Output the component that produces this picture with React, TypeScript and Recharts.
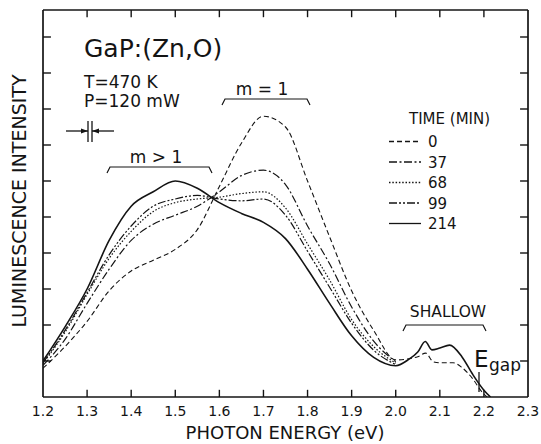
import { LineChart, Line, XAxis, YAxis, ReferenceLine } from 'recharts';

// photon energy (eV) grid for the main band
const ENERGY = [1.2, 1.25, 1.3, 1.35, 1.4, 1.45, 1.5, 1.55, 1.6, 1.65, 1.7, 1.75, 1.8, 1.85, 1.9, 1.95, 2.0];

// intensity in tick units (0 = bottom frame)
const INT_0 = [0.8, 1.4, 2.1, 2.95, 3.5, 3.8, 4.1, 4.65, 5.85, 7.05, 7.8, 7.5, 6.0, 4.45, 2.95, 1.85, 1.03];
const INT_37 = [0.88, 1.6, 2.6, 3.55, 4.35, 4.8, 5.05, 5.3, 5.7, 6.15, 6.3, 5.9, 4.75, 3.7, 2.5, 1.55, 0.98];
const INT_68 = [0.93, 1.8, 2.85, 3.85, 4.6, 5.15, 5.4, 5.5, 5.55, 5.65, 5.7, 5.25, 4.25, 3.25, 2.15, 1.4, 0.94];
const INT_99 = [0.95, 1.85, 2.9, 3.95, 4.75, 5.3, 5.5, 5.6, 5.5, 5.45, 5.5, 5.05, 4.05, 3.05, 2.05, 1.3, 0.9];
const INT_214 = [1.0, 1.95, 3.0, 4.35, 5.3, 5.7, 6.0, 5.8, 5.4, 5.1, 4.85, 4.4, 3.55, 2.6, 1.7, 1.1, 0.87];

// shallow-level tail, only the 0 and 214 min scans run past 2.0 eV
const ENERGY_SHALLOW_0 = [2.05, 2.068, 2.085, 2.1, 2.13, 2.15, 2.175, 2.195, 2.207];
const INT_SHALLOW_0 = [1.12, 1.22, 0.98, 0.95, 0.95, 0.82, 0.5, 0.15, 0];
const ENERGY_SHALLOW_214 = [2.03, 2.05, 2.067, 2.082, 2.1, 2.122, 2.15, 2.175, 2.2, 2.215];
const INT_SHALLOW_214 = [1.05, 1.25, 1.54, 1.31, 1.36, 1.44, 1.12, 0.62, 0.19, 0];

const X_TICKS = [1.2, 1.3, 1.4, 1.5, 1.6, 1.7, 1.8, 1.9, 2.0, 2.1, 2.2, 2.3];
const Y_TICKS = [1, 2, 3, 4, 5, 6, 7, 8, 9, 10];

const X_MIN = 1.2;
const X_MAX = 2.3;
const Y_MAX = 10.75;

const FONT = '"DejaVu Sans", sans-serif';
const INK = '#141414';

const toPoints = (es: number[], vs: number[]) => es.map((e, i) => ({ e, v: vs[i] }));

const series = [
  { name: '0', data: toPoints([...ENERGY, ...ENERGY_SHALLOW_0], [...INT_0, ...INT_SHALLOW_0]), dash: '5 3', width: 1.1 },
  { name: '37', data: toPoints(ENERGY, INT_37), dash: '8 2.5 2 2.5', width: 1.2 },
  { name: '68', data: toPoints(ENERGY, INT_68), dash: '1.5 1.8', width: 1.2 },
  { name: '99', data: toPoints(ENERGY, INT_99), dash: '8 2 2 2 2 2', width: 1.2 },
  { name: '214', data: toPoints([...ENERGY, ...ENERGY_SHALLOW_214], [...INT_214, ...INT_SHALLOW_214]), dash: undefined, width: 1.6 },
];

// inward tick lengths, in data units
const X_TICK_LEN = 0.2;
const Y_TICK_LEN = 0.018;

export default function App() {
  const ref = { xAxisId: 'b', yAxisId: 'l', stroke: INK, ifOverflow: 'visible' as const };
  const innerX = X_TICKS.slice(1, -1);

  return (
    <div style={{ position: 'absolute', left: 0, top: 0, width: 541, height: 444, background: '#fff' }}>
      <LineChart width={541} height={444} margin={{ top: 10, right: 13, left: 43, bottom: 0 }}>
        <XAxis
          xAxisId="b"
          type="number"
          dataKey="e"
          domain={[X_MIN, X_MAX]}
          ticks={X_TICKS}
          interval={0}
          height={47}
          axisLine={false}
          tickLine={false}
          tickSize={0}
          tickMargin={9}
          tickFormatter={(v: number) => v.toFixed(1)}
          tick={{ fontSize: 14, fill: INK, fontFamily: FONT }}
          allowDataOverflow
        />
        <YAxis yAxisId="l" type="number" domain={[0, Y_MAX]} ticks={Y_TICKS} hide allowDataOverflow />

        {/* frame */}
        <ReferenceLine {...ref} y={0} strokeWidth={1.7} />
        <ReferenceLine {...ref} y={Y_MAX} strokeWidth={1.7} />
        <ReferenceLine {...ref} x={X_MIN} strokeWidth={1.7} />
        <ReferenceLine {...ref} x={X_MAX} strokeWidth={1.7} />

        {/* inward ticks on all four sides */}
        {innerX.map((t) => (
          <ReferenceLine key={`xb${t}`} {...ref} strokeWidth={1.4} segment={[{ x: t, y: 0 }, { x: t, y: X_TICK_LEN }]} />
        ))}
        {innerX.map((t) => (
          <ReferenceLine key={`xt${t}`} {...ref} strokeWidth={1.4} segment={[{ x: t, y: Y_MAX }, { x: t, y: Y_MAX - X_TICK_LEN }]} />
        ))}
        {Y_TICKS.map((t) => (
          <ReferenceLine key={`yl${t}`} {...ref} strokeWidth={1.4} segment={[{ x: X_MIN, y: t }, { x: X_MIN + Y_TICK_LEN, y: t }]} />
        ))}
        {Y_TICKS.map((t) => (
          <ReferenceLine key={`yr${t}`} {...ref} strokeWidth={1.4} segment={[{ x: X_MAX, y: t }, { x: X_MAX - Y_TICK_LEN, y: t }]} />
        ))}

        {series.map((s) => (
          <Line
            key={s.name}
            xAxisId="b"
            yAxisId="l"
            data={s.data}
            dataKey="v"
            type="monotone"
            stroke={INK}
            strokeWidth={s.width}
            strokeDasharray={s.dash}
            dot={false}
            activeDot={false}
            isAnimationActive={false}
          />
        ))}
      </LineChart>

      {/* annotations, legend and axis titles */}
      <svg width={541} height={444} style={{ position: 'absolute', left: 0, top: 0, pointerEvents: 'none' }}>
        <g fill={INK} fontFamily={FONT}>
          <text x={285} y={439} fontSize={18} textAnchor="middle">PHOTON ENERGY (eV)</text>
          <text transform="translate(26,201) rotate(-90)" fontSize={19} textAnchor="middle">LUMINESCENCE INTENSITY</text>

          <text x={84} y={57} fontSize={25}>GaP:(Zn,O)</text>
          <text x={84} y={88} fontSize={17}>T=470 K</text>
          <text x={84} y={107} fontSize={17}>P=120 mW</text>

          <text x={156} y={163} fontSize={17} textAnchor="middle">m &gt; 1</text>
          <text x={262} y={95} fontSize={17} textAnchor="middle">m = 1</text>
          <text x={448} y={317} fontSize={15.5} textAnchor="middle">SHALLOW</text>
          <text x={474} y={367} fontSize={23}>E</text>
          <text x={489} y={371} fontSize={17}>gap</text>

          <text x={409} y={124} fontSize={15}>TIME (MIN)</text>
          {series.map((s, i) => (
            <text key={s.name} x={428} y={147 + i * 20.5} fontSize={15}>{s.name}</text>
          ))}
        </g>
        <g stroke={INK} fill="none">
          {series.map((s, i) => (
            <line key={s.name} x1={389} x2={421} y1={141.5 + i * 20.5} y2={141.5 + i * 20.5} strokeWidth={1.3} strokeDasharray={s.dash} />
          ))}
          {/* brackets */}
          <path d="M107 173 L110 167 L209 167 L212 173" strokeWidth={1.2} />
          <path d="M222 105 L225 99 L307 99 L310 105" strokeWidth={1.2} />
          <path d="M403 331 L406 325 L483 325 L486 331" strokeWidth={1.2} />
          {/* E gap marker */}
          <line x1={479} x2={479} y1={372} y2={392} strokeWidth={1.3} />
          {/* resolution marker */}
          <line x1={66} x2={88} y1={131} y2={131} strokeWidth={1.3} />
          <line x1={92} x2={114} y1={131} y2={131} strokeWidth={1.3} />
          <line x1={88} x2={88} y1={121} y2={142} strokeWidth={1.3} />
          <line x1={92} x2={92} y1={121} y2={142} strokeWidth={1.3} />
        </g>
        <g fill={INK}>
          <path d="M88 131 L81 128.5 L81 133.5 Z" />
          <path d="M92 131 L99 128.5 L99 133.5 Z" />
        </g>
      </svg>
    </div>
  );
}
